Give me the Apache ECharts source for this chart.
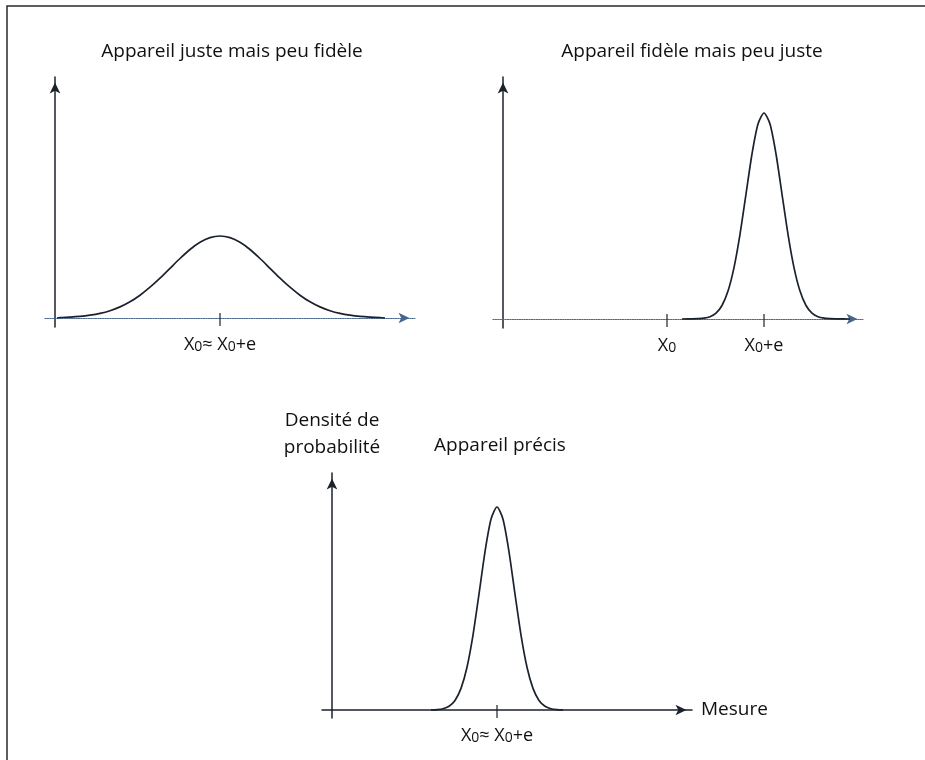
<!DOCTYPE html>
<html><head><meta charset="utf-8">
<script src="https://cdn.jsdelivr.net/npm/echarts@6/dist/echarts.min.js"></script>
<style>html,body{margin:0;padding:0;background:#fff}#c{width:925px;height:760px}</style>
</head><body><div id="c"></div>
<script>
// ---- data ----
const panelTitles = ['Appareil juste mais peu fidèle', 'Appareil fidèle mais peu juste', 'Appareil précis'];
const yAxisName = 'Densité de\nprobabilité';
const xAxisName = 'Mesure';

// Panel A : juste mais peu fidèle (wide curve)
const xA = [2,5,15,25,35,45,55,65,75,85,95,105,115,125,135,145,155,165,175,185,195,205,215,225,235,245,255,265,275,285,295,305,315,325,330];
const yA = [0,0.5,0.9,1.6,2.8,4.6,7.3,11.1,16.2,22.8,30.8,39.9,49.7,59.5,68.5,75.7,80.4,82,80.4,75.7,68.5,59.5,49.7,39.9,30.8,22.8,16.2,11.1,7.3,4.6,2.8,1.6,0.9,0.5,0];
const ticksA = [165];
const labelsA = ['X₀≈ X₀+e'];

// Panel B : fidèle mais peu juste (narrow, shifted)
const xB = [179,189,195,201,207,213,219,225,231,237,243,249,255,261,267,273,279,285,291,297,303,309,315,321,327,333,347];
const yB = [0,0.1,0.3,0.8,2.3,5.9,13.5,27.9,51.4,84.7,124.9,165.0,194.9,206,194.9,165.0,124.9,84.7,51.4,27.9,13.5,5.9,2.3,0.8,0.3,0.1,0];
const ticksB = [164, 261];
const labelsB = ['X₀', 'X₀+e'];

// Panel C : précis (narrow, centred)
const xC = [99,105,111,117,123,129,135,141,147,153,159,165,171,177,183,189,195,201,207,213,219,225,231];
const yC = [0.1,0.4,1.3,3.8,9.6,21.6,42.8,74.9,115.9,158.2,190.7,203,190.7,158.2,115.9,74.9,42.8,21.6,9.6,3.8,1.3,0.4,0.1];
const ticksC = [165];
const labelsC = ['X₀≈ X₀+e'];

// ---- chart ----
const FONT = "'Open Sans', sans-serif";
const INK = '#1b222d';
const DOT = '#46668e';
const TXT = '#111111';

function fmt(labels, ticks) {
  return function (v) {
    const i = ticks.findIndex(t => Math.abs(t - v) < 1e-6);
    if (i < 0) return '';
    return labels[i].split('₀').map(p => p ? '{t|' + p + '}' : '').join('{s|0}');
  };
}
const arrowLine = {symbol: ['none', 'arrow'], symbolSize: [8, 11], symbolOffset: [0, -5.5]};

function xAx(gi, ticks, labels, dotted, name) {
  return {
    type: 'value', gridIndex: gi, min: -10, max: 360,
    splitLine: {show: false}, axisTick: {show: false},
    axisLine: Object.assign({onZero: true, lineStyle: {color: dotted ? DOT : INK, width: dotted ? 1.2 : 1.5, type: dotted ? 'dotted' : 'solid'}}, arrowLine),
    axisLabel: {
      customValues: ticks, formatter: fmt(labels, ticks), margin: 3,
      fontFamily: FONT, fontSize: 18, color: TXT, lineHeight: 24,
      rich: {
        t: {fontFamily: FONT, fontSize: 18, color: TXT, lineHeight: 24, verticalAlign: 'bottom'},
        s: {fontFamily: FONT, fontSize: 14, color: TXT, lineHeight: 10, verticalAlign: 'bottom'}
      }
    },
    name: name || '', nameLocation: 'end', nameGap: 9,
    nameTextStyle: {fontFamily: FONT, fontSize: 19, color: TXT, align: 'left', verticalAlign: 'middle'}
  };
}
function yAx(gi, min, max, name) {
  return {
    type: 'value', gridIndex: gi, min: min, max: max,
    splitLine: {show: false}, axisTick: {show: false}, axisLabel: {show: false},
    axisLine: Object.assign({onZero: true, lineStyle: {color: INK, width: 1.5}}, arrowLine),
    name: name || '', nameLocation: 'end', nameGap: 12,
    nameTextStyle: {fontFamily: FONT, fontSize: 19, color: TXT, lineHeight: 27, align: 'center'}
  };
}
function curve(i, xs, ys) {
  return {type: 'line', xAxisIndex: i, yAxisIndex: i, data: xs.map((x, k) => [x, ys[k]]),
    smooth: 0.25, symbol: 'none', silent: true,
    lineStyle: {color: INK, width: 1.7}, z: 3};
}
function tickMarks(i, ticks) {
  return {type: 'scatter', xAxisIndex: i, yAxisIndex: i, data: ticks.map(t => [t, 0]),
    symbol: 'rect', symbolSize: [1.5, 13], symbolOffset: [0, 1.5], silent: true,
    itemStyle: {color: INK}, z: 4};
}
const titleStyle = {fontFamily: FONT, fontSize: 19, fontWeight: 'normal', color: TXT};

const chart = echarts.init(document.getElementById('c'), null, {renderer: 'canvas'});
chart.setOption({
  animation: false,
  backgroundColor: '#ffffff',
  title: [
    {text: panelTitles[0], left: 232, top: 42, textAlign: 'center', padding: 0, textStyle: titleStyle},
    {text: panelTitles[1], left: 692, top: 42, textAlign: 'center', padding: 0, textStyle: titleStyle},
    {text: panelTitles[2], left: 500, top: 436, textAlign: 'center', padding: 0, textStyle: titleStyle}
  ],
  graphic: [{type: 'rect', shape: {x: 7, y: 6, width: 960, height: 800}, style: {fill: 'none', stroke: '#2a2a2a', lineWidth: 1.5}, silent: true}],
  grid: [
    {left: 45, top: 77, width: 370, height: 250, outerBoundsMode: 'none'},
    {left: 493, top: 77, width: 370, height: 251, outerBoundsMode: 'none'},
    {left: 322, top: 473, width: 370, height: 245, outerBoundsMode: 'none'}
  ],
  xAxis: [xAx(0, ticksA, labelsA, true), xAx(1, ticksB, labelsB, true), xAx(2, ticksC, labelsC, false, xAxisName)],
  yAxis: [yAx(0, -9, 241), yAx(1, -9, 242), yAx(2, -8, 237, yAxisName)],
  series: [curve(0, xA, yA), curve(1, xB, yB), curve(2, xC, yC), tickMarks(0, ticksA), tickMarks(1, ticksB), tickMarks(2, ticksC)]
});
</script>
</body></html>
